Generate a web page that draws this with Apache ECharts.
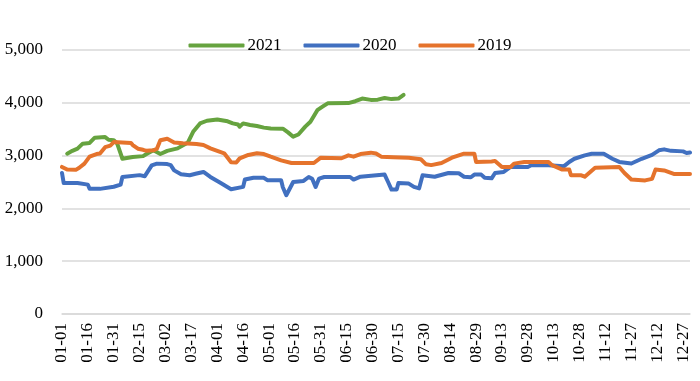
<!DOCTYPE html>
<html>
<head>
<meta charset="utf-8">
<script src="https://cdn.jsdelivr.net/npm/echarts@6/dist/echarts.min.js"></script>
<style>html,body{margin:0;padding:0;background:#fff}#c{width:700px;height:381px}</style>
</head>
<body>
<div id="c"></div>
<script>
// Categories: every day of a (non-leap) year, MM-DD
const monthDays = [31,28,31,30,31,30,31,31,30,31,30,31];
const categories = [];
monthDays.forEach((n, m) => { for (let d = 1; d <= n; d++) categories.push(String(m+1).padStart(2,'0') + '-' + String(d).padStart(2,'0')); });

const seriesNames = ['2021', '2020', '2019'];

const dates2021 = ['01-04','01-07','01-10','01-13','01-17','01-20','01-26','01-28','01-31','02-02','02-04','02-05','02-11','02-17','02-19','02-23','02-27','03-03','03-09','03-15','03-18','03-22','03-26','04-01','04-07','04-10','04-13','04-14','04-16','04-20','04-24','04-28','05-02','05-09','05-12','05-15','05-18','05-22','05-25','05-29','06-01','06-04','06-16','06-20','06-24','06-29','07-03','07-07','07-11','07-15','07-18'];
const values2021 = [3037,3090,3132,3226,3240,3340,3350,3300,3290,3226,3037,2940,2975,2990,3030,3100,3030,3090,3137,3250,3450,3610,3660,3685,3650,3610,3590,3548,3610,3580,3560,3530,3515,3510,3440,3358,3400,3548,3642,3860,3926,3990,3995,4030,4080,4055,4060,4090,4070,4080,4150];

// 2020
const dates2020 = ['01-01','01-02','01-10','01-11','01-16','01-17','01-23','01-31','02-04','02-05','02-15','02-18','02-22','02-25','03-03','03-05','03-07','03-11','03-16','03-20','03-24','03-28','04-03','04-09','04-16','04-17','04-22','04-28','04-30','05-08','05-09','05-11','05-12','05-15','05-21','05-24','05-26','05-28','05-30','06-02','06-17','06-19','06-23','07-07','07-09','07-11','07-14','07-15','07-21','07-24','07-27','07-29','08-05','08-13','08-19','08-22','08-26','08-28','09-01','09-03','09-07','09-09','09-14','09-18','09-28','09-30','10-10','10-19','10-22','10-25','10-31','11-04','11-11','11-16','11-20','11-27','12-03','12-09','12-13','12-16','12-20','12-27','12-29','12-31'];
const values2020 = [2670,2480,2480,2450,2450,2370,2370,2410,2450,2595,2630,2610,2816,2848,2840,2820,2720,2646,2627,2660,2690,2595,2480,2362,2407,2546,2580,2580,2535,2535,2400,2250,2280,2500,2520,2595,2560,2407,2565,2595,2595,2546,2600,2640,2500,2357,2357,2480,2470,2407,2380,2627,2600,2670,2665,2600,2590,2640,2640,2580,2570,2670,2690,2785,2785,2816,2816,2800,2880,2940,3005,3035,3035,2940,2880,2850,2940,3015,3100,3118,3090,3080,3050,3060];

// 2019
const dates2019 = ['01-01','01-04','01-09','01-11','01-14','01-17','01-21','01-23','01-26','01-29','01-31','02-10','02-11','02-14','02-17','02-19','02-23','02-25','02-27','03-03','03-07','03-12','03-20','03-24','03-28','04-01','04-05','04-09','04-12','04-14','04-19','04-24','04-28','05-02','05-08','05-14','05-27','05-31','06-12','06-16','06-19','06-23','06-29','07-02','07-05','07-12','07-21','07-28','07-31','08-03','08-09','08-15','08-19','08-22','08-28','08-29','09-07','09-09','09-13','09-18','09-20','09-26','10-10','10-12','10-18','10-22','10-23','10-29','10-31','11-06','11-20','11-23','11-27','12-05','12-09','12-11','12-16','12-22','12-31'];
const values2019 = [2785,2735,2730,2770,2848,2980,3030,3040,3160,3190,3256,3240,3200,3130,3110,3090,3100,3130,3290,3320,3250,3232,3220,3200,3137,3090,3043,2873,2870,2948,3012,3043,3030,2980,2910,2860,2860,2960,2950,3005,2980,3030,3056,3040,2980,2970,2960,2930,2835,2820,2860,2960,3005,3037,3037,2880,2890,2900,2785,2785,2848,2880,2880,2820,2735,2735,2627,2627,2600,2770,2785,2670,2546,2530,2560,2735,2720,2650,2650];

const yTicks = { min: 0, max: 5000, interval: 1000 };
const colors = ['#66A33F', '#4170C0', '#E5732C'];

const pairs = (ds, vs) => ds.map((d, i) => [d, vs[i]]);
const seriesData = [pairs(dates2021, values2021), pairs(dates2020, values2020), pairs(dates2019, values2019)];

const font = '"Liberation Serif", "Times New Roman", serif';
const chart = echarts.init(document.getElementById('c'), null, { renderer: 'canvas' });
chart.setOption({
  animation: false,
  color: colors,
  textStyle: { fontFamily: font },
  legend: {
    top: 32, left: 'center',
    itemWidth: 56, itemHeight: 4, itemGap: 22,
    icon: 'roundRect',
    textStyle: { fontFamily: font, fontSize: 17, color: '#000', padding: [0,0,0,-2] },
    data: seriesNames
  },
  grid: { left: 62, right: 10, top: 50, bottom: 67 },
  xAxis: {
    type: 'category',
    data: categories,
    boundaryGap: false,
    axisLine: { lineStyle: { color: '#d9d9d9', width: 1.5 } },
    axisTick: { show: false },
    axisLabel: { interval: 14, rotate: 90, margin: 9, fontFamily: font, fontSize: 17, color: '#000' },
    splitLine: { show: false }
  },
  yAxis: {
    type: 'value',
    min: yTicks.min, max: yTicks.max, interval: yTicks.interval,
    axisLine: { show: false },
    axisTick: { show: false },
    axisLabel: { margin: 19, fontFamily: font, fontSize: 17, color: '#000', formatter: v => v.toLocaleString('en-US') },
    splitLine: { lineStyle: { color: '#d9d9d9', width: 1.5 } }
  },
  series: seriesNames.map((n, i) => ({
    name: n, type: 'line', data: seriesData[i],
    showSymbol: false, symbol: 'none',
    lineStyle: { width: 4, color: colors[i], cap: 'round', join: 'round' }
  }))
});
</script>
</body>
</html>
